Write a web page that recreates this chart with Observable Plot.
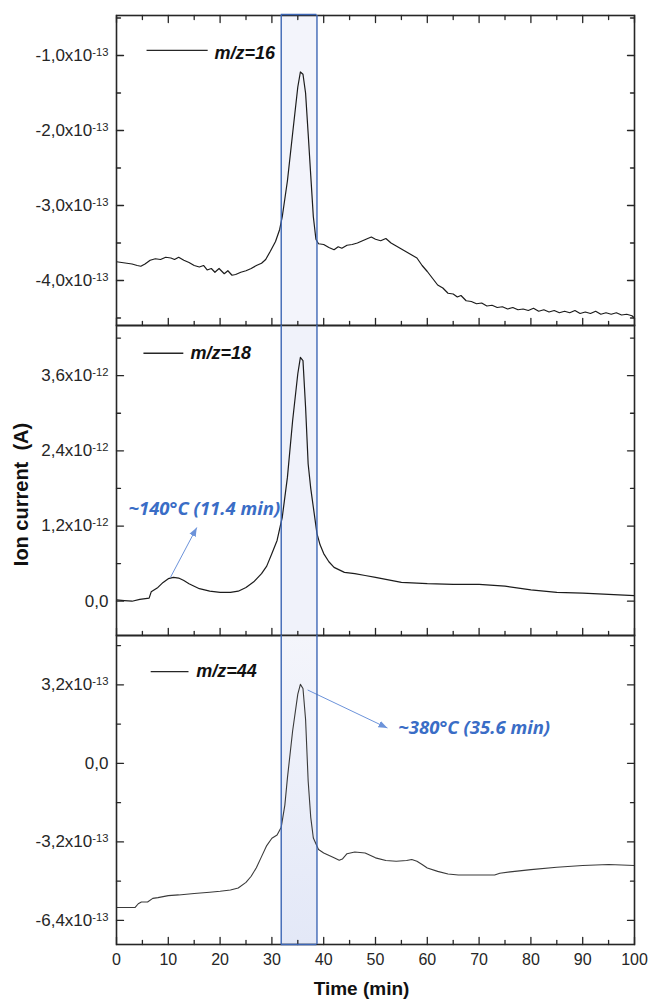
<!DOCTYPE html>
<html>
<head>
<meta charset="utf-8">
<script src="https://cdn.jsdelivr.net/npm/d3@7"></script>
<script src="https://cdn.jsdelivr.net/npm/@observablehq/plot@0.6"></script>
<style>
html, body { margin: 0; padding: 0; background: #fff; overflow: hidden; }
#chart { width: 652px; }
#chart svg { display: block; overflow: visible; }
</style>
</head>
<body>
<div id="chart"></div>
<script>
// ---------------- DATA ----------------
// m/z = 16 (ion current in units of 1e-13 A)
const time16 = [0,1,2,3,4,4.7,5.5,6.5,7.5,8.5,9.5,10.5,11.2,12,13,14,15,16,16.8,17.5,18.3,19,19.8,20.8,21.5,22.3,23,24,25,26,27,28,28.8,29.7,30.7,31.5,32,33,34,35,35.5,36,36.5,37,37.5,38,38.5,39,40,41,42,42.8,43.5,44.5,45.5,46.5,47.5,48.5,49.2,50,51,52,53,54,55,56,57,58,59,60,61,62,63,64,65,65.8,66.5,67.5,68.5,69.5,70.5,71.5,72.5,73.5,74.5,75.5,76.5,77.5,78.5,79.5,80.5,81.5,82.5,83.5,84.5,85.5,86.5,87.5,88.5,89.5,90.5,91.5,92.5,93.5,94.5,95.5,96.5,97.5,98.5,99.5,100];
const ion16 = [-3.75,-3.76,-3.77,-3.78,-3.80,-3.81,-3.78,-3.73,-3.71,-3.72,-3.69,-3.70,-3.72,-3.69,-3.73,-3.76,-3.80,-3.82,-3.80,-3.86,-3.84,-3.89,-3.84,-3.91,-3.87,-3.93,-3.92,-3.89,-3.87,-3.84,-3.80,-3.77,-3.72,-3.61,-3.48,-3.32,-3.15,-2.67,-2.04,-1.42,-1.22,-1.25,-1.50,-2.04,-2.60,-3.15,-3.45,-3.51,-3.52,-3.56,-3.59,-3.55,-3.57,-3.53,-3.52,-3.50,-3.47,-3.44,-3.42,-3.45,-3.47,-3.44,-3.50,-3.54,-3.58,-3.62,-3.66,-3.70,-3.80,-3.88,-3.97,-4.06,-4.10,-4.17,-4.18,-4.22,-4.20,-4.27,-4.28,-4.31,-4.30,-4.34,-4.33,-4.36,-4.35,-4.38,-4.36,-4.39,-4.38,-4.40,-4.37,-4.41,-4.39,-4.42,-4.40,-4.43,-4.41,-4.43,-4.40,-4.44,-4.42,-4.44,-4.41,-4.45,-4.43,-4.45,-4.43,-4.46,-4.45,-4.47,-4.50];

// m/z = 18 (ion current in units of 1e-12 A)
const time18 = [0,1.5,3,4.5,6.3,6.7,8,9,10,11,12,13,14,15,16,18,20,22,23.5,25,26.5,28,29,30,31,32,33,34,35,35.5,36,36.5,37,37.5,38,38.7,39.3,40,41,42,44,46,48,50,52,55,60,65,70,75,80,85,90,95,100];
const ion18 = [0.02,0.01,0.00,0.03,0.05,0.15,0.22,0.30,0.36,0.38,0.37,0.33,0.28,0.24,0.20,0.16,0.14,0.14,0.16,0.22,0.31,0.44,0.56,0.76,0.97,1.34,1.98,2.88,3.63,3.89,3.84,3.10,2.19,1.80,1.50,1.08,0.90,0.76,0.63,0.54,0.46,0.44,0.41,0.38,0.35,0.30,0.28,0.27,0.27,0.24,0.18,0.14,0.13,0.11,0.09];

// m/z = 44 (ion current in units of 1e-13 A)
const time44 = [0,3.6,4.2,4.8,6,7,8,10,12,15,18,20,22,23.5,25,26,27,28,29,30,31,31.8,32.5,33,34,35,35.5,36,36.5,37,37.5,38,39,40,42,43,43.6,44.5,46,48,50,52,54,56,57,58,59,60,62,64,66,70,73,74,76,80,85,90,95,100];
const ion44 = [-5.87,-5.87,-5.72,-5.65,-5.65,-5.50,-5.47,-5.39,-5.36,-5.30,-5.25,-5.21,-5.16,-5.08,-4.85,-4.60,-4.25,-3.80,-3.35,-3.05,-2.92,-2.60,-1.70,-0.59,1.32,2.82,3.22,3.05,1.80,-0.72,-2.20,-3.04,-3.51,-3.65,-3.85,-3.95,-3.90,-3.68,-3.61,-3.65,-3.85,-3.96,-3.99,-3.96,-3.92,-3.99,-4.12,-4.26,-4.40,-4.51,-4.55,-4.55,-4.55,-4.48,-4.42,-4.33,-4.23,-4.16,-4.12,-4.16];

// axis ticks
const xMajor = [0,10,20,30,40,50,60,70,80,90,100];
const xMinor = [5,15,25,35,45,55,65,75,85,95];
const yMajor16 = [-4,-3,-2,-1], yMinor16 = [-4.5,-3.5,-2.5,-1.5,-0.5];
const yMajor18 = [0,1.2,2.4,3.6], yMinor18 = [0.6,1.8,3.0,4.2];
const yMajor44 = [-6.4,-3.2,0,3.2], yMinor44 = [-4.8,-1.6,1.6,4.8];

// labels
const seriesLabels = ["m/z=16", "m/z=18", "m/z=44"];
const exponents = ["-13", "-12", "-13"];
const yTitle = "Ion current\u00a0 (A)";
const xTitle = "Time (min)";

// highlighted time window (min)
const bandStart = 31.8, bandEnd = 38.7;

// annotations
const note140 = "~140°C (11.4 min)";
const note380 = "~380°C (35.6 min)";

// ---------------- STYLE / LAYOUT ----------------
const ns = "http://www.w3.org/2000/svg";
const W = 652, ML = 116, MR = 18;
const FONT = "'Liberation Sans', Arial, Helvetica, sans-serif";
const INK = "#262626";
const EDGE = "#3d66b5";
const ANNO = "#3a6dc6";
const ARROW = "#6c93da";

const rows = (ts, vs) => ts.map((t, i) => ({t, v: vs[i]}));
const fmt = exp => v => Math.abs(v) < 1e-9 ? "0,0" : v.toFixed(1).replace(".", ",") + "x10^" + exp;
const tickShape = {draw(ctx, l) { ctx.moveTo(0, 0); ctx.lineTo(0, -l); }};

function ticks(yMajor, yMinor, withTop) {
  const s = {stroke: INK, strokeWidth: 1.3, shape: tickShape, anchor: "start"};
  const m = [
    Plot.vector(yMajor, {y: d => d, frameAnchor: "left", rotate: 90, length: 7, ...s}),
    Plot.vector(yMinor, {y: d => d, frameAnchor: "left", rotate: 90, length: 4, ...s}),
    Plot.vector(yMajor, {y: d => d, frameAnchor: "right", rotate: -90, length: 7, ...s}),
    Plot.vector(yMinor, {y: d => d, frameAnchor: "right", rotate: -90, length: 4, ...s}),
    Plot.vector(xMajor, {x: d => d, frameAnchor: "bottom", rotate: 0, length: 7, ...s}),
    Plot.vector(xMinor, {x: d => d, frameAnchor: "bottom", rotate: 0, length: 4, ...s})
  ];
  if (withTop) {
    m.push(Plot.vector(xMajor, {x: d => d, frameAnchor: "top", rotate: 180, length: 7, ...s}));
    m.push(Plot.vector(xMinor, {x: d => d, frameAnchor: "top", rotate: 180, length: 4, ...s}));
  }
  return m;
}

function triangleMarker(color, context) {
  const doc = (context && context.document) || document;
  const m = doc.createElementNS(ns, "marker");
  m.setAttribute("viewBox", "-9 -4 10 8");
  m.setAttribute("markerWidth", 10);
  m.setAttribute("markerHeight", 8);
  m.setAttribute("orient", "auto");
  m.setAttribute("markerUnits", "userSpaceOnUse");
  const p = doc.createElementNS(ns, "path");
  p.setAttribute("d", "M-9,-3.5L0,0L-9,3.5Z");
  p.setAttribute("fill", color);
  p.setAttribute("stroke", "none");
  m.appendChild(p);
  return m;
}
function arrowMark(a) {
  try {
    return Plot.link([a], {x1: "x1", y1: "y1", x2: "x2", y2: "y2", stroke: ARROW, strokeWidth: 1, markerEnd: triangleMarker});
  } catch (e) {
    return Plot.arrow([a], {x1: "x1", y1: "y1", x2: "x2", y2: "y2", stroke: ARROW, strokeWidth: 1, headLength: 7});
  }
}

function legend(label, lx1, lx2, ly, tx, ty) {
  return [
    Plot.link([0], {x1: () => lx1, x2: () => lx2, y1: () => ly, y2: () => ly, stroke: INK, strokeWidth: 1.3}),
    Plot.text([label], {x: () => tx, y: () => ty, text: d => d, textAnchor: "start", fontSize: 18, fontWeight: "bold", fontStyle: "italic", fill: "#111"})
  ];
}

function superscripts(svg) {
  svg.querySelectorAll("text").forEach(t => {
    const s = t.textContent;
    const i = s.indexOf("^");
    if (i < 0) return;
    t.textContent = s.slice(0, i);
    const ts = document.createElementNS(ns, "tspan");
    ts.setAttribute("dy", "-0.45em");
    ts.setAttribute("font-size", "0.66em");
    ts.textContent = s.slice(i + 1);
    t.appendChild(ts);
  });
}

const common = {
  width: W, marginLeft: ML, marginRight: MR,
  style: {fontFamily: FONT, fontSize: "16px", color: INK, background: "transparent"}
};
const annoStyle = {textAnchor: "start", fill: ANNO, fontSize: 18.5, fontWeight: "bold", fontStyle: "italic", fontFamily: "'Open Sans', sans-serif"};

// ---------------- PANEL 1: m/z=16 ----------------
const dom16 = [-4.6, -0.467];
const p1 = Plot.plot({
  ...common, height: 325, marginTop: 15, marginBottom: 0,
  x: {domain: [0, 100], axis: null},
  y: {domain: dom16},
  marks: [
    Plot.rect([0], {x1: () => bandStart, x2: () => bandEnd, fill: "#f3f4fb"}),
    Plot.line(rows(time16, ion16), {x: "t", y: "v", stroke: "#1c1c1c", strokeWidth: 1.2}),
    ...legend(seriesLabels[0], 5.8, 17.6, -0.933, 18.9, -0.973),
    Plot.frame({stroke: INK, strokeWidth: 1.6}),
    ...ticks(yMajor16, yMinor16, true),
    Plot.ruleX([bandStart, bandEnd], {stroke: EDGE, strokeWidth: 1.4}),
    Plot.ruleY([dom16[1]], {x1: () => bandStart, x2: () => bandEnd, stroke: EDGE, strokeWidth: 1.6, dy: -1}),
    Plot.axisY(yMajor16, {tickSize: 0, tickPadding: 8, tickFormat: fmt(exponents[0]), label: null, fontSize: 17})
  ]
});

// ---------------- PANEL 2: m/z=18 ----------------
const dom18 = [-0.547, 4.4];
const p2 = Plot.plot({
  ...common, height: 310, marginTop: 0, marginBottom: 0,
  x: {domain: [0, 100], axis: null},
  y: {domain: dom18},
  marks: [
    Plot.rect([0], {x1: () => bandStart, x2: () => bandEnd, fill: "#f0f2fa"}),
    Plot.line(rows(time18, ion18), {x: "t", y: "v", stroke: "#1c1c1c", strokeWidth: 1.2}),
    ...legend(seriesLabels[1], 5.2, 12.9, 3.957, 14.3, 3.95),
    Plot.text([note140], {x: () => 2.3, y: () => 1.47, text: d => d, ...annoStyle}),
    arrowMark({x1: 10.4, y1: 0.378, x2: 15.5, y2: 1.176}),
    Plot.frame({stroke: INK, strokeWidth: 1.6}),
    ...ticks(yMajor18, yMinor18, false),
    Plot.ruleX([bandStart, bandEnd], {stroke: EDGE, strokeWidth: 1.4}),
    Plot.axisY(yMajor18, {tickSize: 0, tickPadding: 8, tickFormat: fmt(exponents[1]), label: null, fontSize: 17}),
    Plot.text([yTitle], {frameAnchor: "left", textAnchor: "middle", text: d => d, dx: -95, dy: 14, rotate: -90, fontSize: 20, fontWeight: "bold", fill: "#111"})
  ]
});

// ---------------- PANEL 3: m/z=44 ----------------
const dom44 = [-7.38, 5.21];
const p3 = Plot.plot({
  ...common, height: 369, marginTop: 0, marginBottom: 60,
  x: {domain: [0, 100]},
  y: {domain: dom44},
  marks: [
    Plot.rect([0], {x1: () => bandStart, x2: () => bandEnd, fill: "url(#band-grad)"}),
    Plot.line(rows(time44, ion44), {x: "t", y: "v", stroke: "#3a3a3a", strokeWidth: 1.1}),
    ...legend(seriesLabels[2], 6.6, 13.9, 3.74, 15.4, 3.77),
    arrowMark({x1: 36.9, y1: 2.99, x2: 52.3, y2: 1.44}),
    Plot.text([note380], {x: () => 54.4, y: () => 1.44, text: d => d, ...annoStyle}),
    Plot.frame({stroke: INK, strokeWidth: 1.6}),
    ...ticks(yMajor44, yMinor44, false),
    Plot.ruleX([bandStart, bandEnd], {stroke: EDGE, strokeWidth: 1.4}),
    Plot.ruleY([dom44[0]], {x1: () => bandStart, x2: () => bandEnd, stroke: EDGE, strokeWidth: 1.4}),
    Plot.axisY(yMajor44, {tickSize: 0, tickPadding: 8, tickFormat: fmt(exponents[2]), label: null, fontSize: 17}),
    Plot.axisX(xMajor, {tickSize: 0, tickPadding: 9.5, tickFormat: d => String(d), label: null, fontSize: 16}),
    Plot.text([xTitle], {frameAnchor: "bottom", textAnchor: "middle", text: d => d, dx: -14, dy: 50, fontSize: 19, fontWeight: "bold", fill: "#111"})
  ]
});

// gradient for the lower band
const defs = document.createElementNS(ns, "defs");
const grad = document.createElementNS(ns, "linearGradient");
grad.setAttribute("id", "band-grad");
grad.setAttribute("x1", "0"); grad.setAttribute("y1", "0");
grad.setAttribute("x2", "0"); grad.setAttribute("y2", "1");
[["0", "#f4f5fb"], ["1", "#e3e8f7"]].forEach(([o, c]) => {
  const s = document.createElementNS(ns, "stop");
  s.setAttribute("offset", o); s.setAttribute("stop-color", c);
  grad.appendChild(s);
});
defs.appendChild(grad);
p3.insertBefore(defs, p3.firstChild);

const chart = document.getElementById("chart");
[p1, p2, p3].forEach(p => { superscripts(p); chart.appendChild(p); });
</script>
</body>
</html>
